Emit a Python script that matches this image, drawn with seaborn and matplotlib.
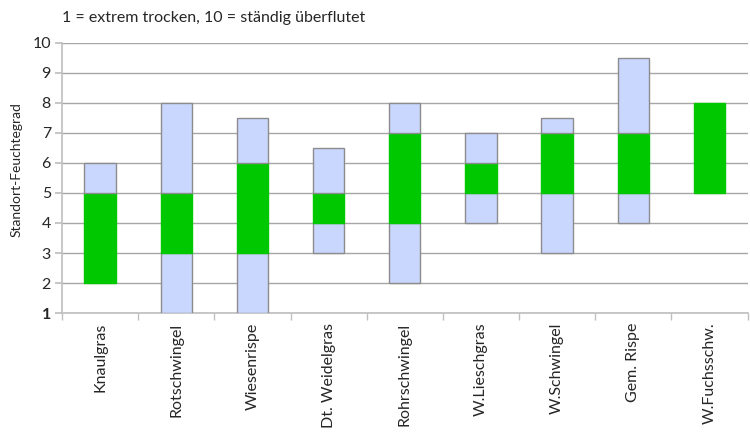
import matplotlib
matplotlib.use("Agg")
import matplotlib.pyplot as plt
import seaborn as sns
import pandas as pd
import numpy as np

species = ["Knaulgras", "Rotschwingel", "Wiesenrispe", "Dt. Weidelgras", "Rohrschwingel",
           "W.Lieschgras", "W.Schwingel", "Gem. Rispe", "W.Fuchsschw."]
range_low = [2, 1, 1, 3, 2, 4, 3, 4, 5]
opt_low = [2, 3, 3, 4, 4, 5, 5, 5, 5]
opt_high = [5, 5, 6, 5, 7, 6, 7, 7, 8]
range_high = [6, 8, 7.5, 6.5, 8, 7, 7.5, 9.5, 8]
y_ticks = [1, 2, 3, 4, 5, 6, 7, 8, 9, 10]

sns.set_theme(style="white")
plt.rcParams["font.family"] = ["Lato", "DejaVu Sans"]

fig = plt.figure(figsize=(7.5, 4.33), dpi=100)
ax = fig.add_axes([0.0827, 0.277, 0.914, 0.624])

df = pd.DataFrame({"species": species, "lo": range_low, "olo": opt_low,
                   "ohi": opt_high, "hi": range_high})

segments = [("lo", "olo", "#C9D7FF"), ("olo", "ohi", "#00C800"), ("ohi", "hi", "#C9D7FF")]
for b, t, col in segments:
    d = df.copy()
    d["h"] = d[t] - d[b]
    n_before = len(ax.patches)
    sns.barplot(data=d, x="species", y="h", color=col, width=0.41, ax=ax,
                edgecolor="#8C8C8C" if col != "#00C800" else "#00C800",
                linewidth=1.0, saturation=1, zorder=3)
    new = ax.patches[n_before:]
    for p, bot, h in zip(new, d[b], d["h"]):
        p.set_y(bot)
        if h <= 0:
            p.set_visible(False)

ax.set_ylim(1, 10)
ax.set_xlim(-0.5, len(species) - 0.5)
ax.set_yticks(y_ticks)
ax.yaxis.grid(True, color="#A6A6A6", linewidth=1.0, zorder=0)
ax.set_axisbelow(True)
for s in ["top", "right"]:
    ax.spines[s].set_visible(False)
for s in ["left", "bottom"]:
    ax.spines[s].set_color("#BFBFBF")
    ax.spines[s].set_linewidth(1.2)

ax.set_xticks(range(len(species)))
ax.set_xticklabels(species, rotation=90, fontsize=11.5)
ax.tick_params(axis="x", which="major", length=0, pad=7)
ax.set_xticks(np.arange(-0.5, len(species)), minor=True)
ax.tick_params(axis="x", which="minor", length=5, color="#BFBFBF", bottom=True)
ax.tick_params(axis="y", length=5, color="#BFBFBF", left=True, labelsize=11.5, pad=3)
for lab in ax.get_yticklabels():
    if lab.get_text() == "1":
        lab.set_fontweight("bold")

ax.set_xlabel("")
ax.set_ylabel("Standort-Feuchtegrad", fontsize=10, labelpad=8)
ax.yaxis.set_label_coords(-0.058, 0.53)

fig.text(0.083, 0.958, "1 = extrem trocken, 10 = ständig überflutet", fontsize=11.5,
         ha="left", va="center")

fig.savefig("out.png", dpi=100)
